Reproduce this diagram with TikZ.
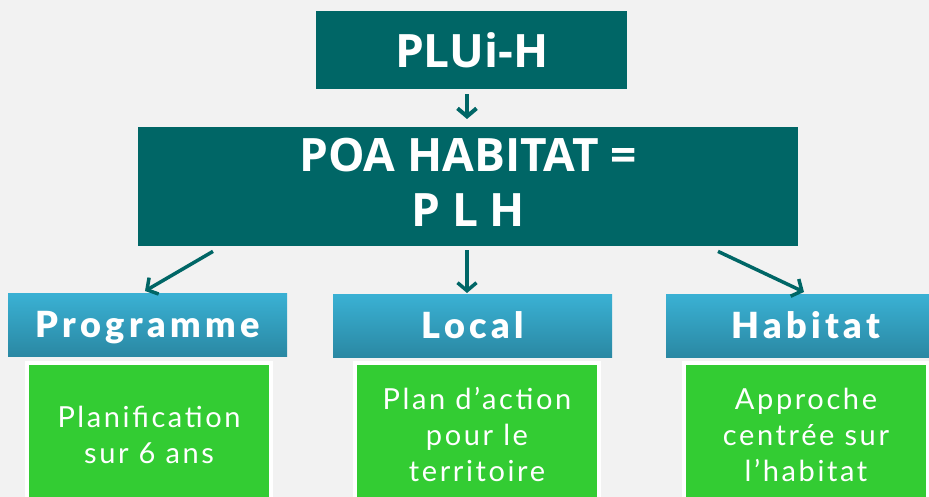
\documentclass[tikz,border=0pt]{standalone}
\usepackage{fontspec}
\setmainfont{Open Sans}
\newfontfamily\titlefont{Open Sans}
\newfontfamily\labfont{Lato Black}[LetterSpace=12]
\newfontfamily\bodyfont{Lato}[LetterSpace=9]
\usetikzlibrary{arrows.meta,calc}
\definecolor{bgc}{RGB}{242,242,242}
\definecolor{teal}{RGB}{0,102,102}
\definecolor{btop}{RGB}{58,177,212}
\definecolor{bbot}{RGB}{42,136,163}
\definecolor{gr}{RGB}{51,204,51}
\tikzset{
  tealbox/.style={anchor=north west, fill=teal, inner sep=0pt},
  tealtext/.style={text=white, align=center, inner sep=0pt,
    font=\titlefont\bfseries\fontsize{46}{55}\selectfont},
  bluebox/.style={anchor=north west, top color=btop, bottom color=bbot, inner sep=0pt,
    minimum width=279pt, minimum height=63pt, text=white, text height=25pt, text depth=0pt,
    font=\labfont\fontsize{36}{40}\selectfont},
  greenbox/.style={anchor=north west, fill=gr, draw=white, line width=4pt, inner sep=0pt,
    minimum width=244pt, minimum height=144pt, text=white, align=center,
    font=\bodyfont\fontsize{29}{36}\selectfont},
  bigarr/.style={draw=teal, line width=3.5pt, -{Straight Barb[length=8pt,width=19pt]}},
  smallarr/.style={draw=teal, line width=4pt, -{Straight Barb[length=8pt,width=19pt]}},
}
\begin{document}
\begin{tikzpicture}[x=1pt,y=-1pt]
\fill[bgc] (0,0) rectangle (929,497);
\useasboundingbox (0,0) rectangle (929,497);
\node[tealbox, minimum width=311pt, minimum height=78pt] (plui) at (316,11) {};
\node[tealtext] (pluit) at (plui.center) {PLUi-H};
\node[tealbox, minimum width=660pt, minimum height=119pt] (poa) at (138,127) {};
\node[tealtext] (poat) at ([yshift=4pt]poa.center) {POA HABITAT =\\P L H};
\node[bluebox] (prog) at (8,293) {Programme};
\node[bluebox] (loc) at (333,294) {Local};
\node[bluebox] (hab) at (666,294) {Habitat};
\node[greenbox] (g1) at (25,361) {Planification\\sur 6 ans};
\node[greenbox] (g2) at (353,361) {Plan d’action\\pour le\\territoire};
\node[greenbox] (g3) at (682,361) {Approche\\centrée sur\\l’habitat};
\draw[smallarr] ([xshift=151pt,yshift=-5pt]plui.south west) -- ([xshift=329pt,yshift=8pt]poa.north west);
\draw[bigarr] ([xshift=75pt,yshift=-5pt]poa.south west) -- ([xshift=137pt,yshift=2pt]prog.north west);
\draw[bigarr] ([xshift=329pt,yshift=-4pt]poa.south west) -- ([xshift=134pt,yshift=1pt]loc.north west);
\draw[bigarr] ([xshift=580pt,yshift=-5pt]poa.south west) -- ([xshift=138pt,yshift=2pt]hab.north west);
\end{tikzpicture}
\end{document}
